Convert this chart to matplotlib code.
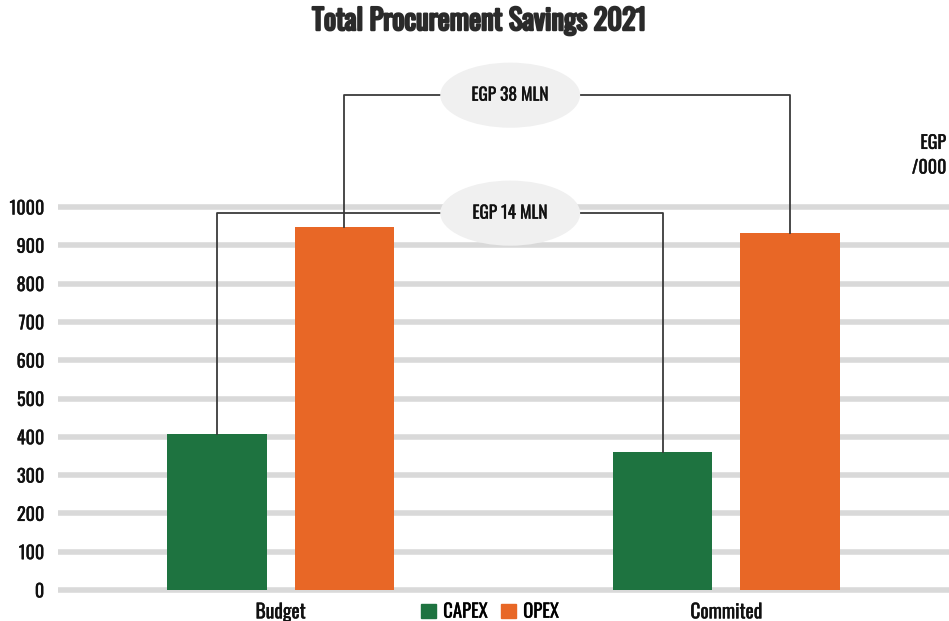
import matplotlib
matplotlib.use('Agg')
import numpy as np
import matplotlib.pyplot as plt
from matplotlib import font_manager
import matplotlib.patheffects as pe
from matplotlib.patches import Ellipse, Patch

# 优先用窄体字体（参考图是 Oswald 一类的窄字）
available = {f.name for f in font_manager.fontManager.ttflist}
family = [f for f in ['Oswald', 'Barlow Condensed', 'Roboto Condensed', 'Liberation Sans'] if f in available]
plt.rcParams['font.family'] = family + ['DejaVu Sans']

# data
categories = ['Budget', 'Commited']
capex = [407, 360]
opex = [948, 932]
series_names = ['CAPEX', 'OPEX']
savings_labels = ['EGP 38 MLN', 'EGP 14 MLN']
y_ticks = list(range(0, 1001, 100))

green = '#1e7340'
orange = '#e86726'
grid_c = '#d9d9d9'
line_c = '#3a3a3a'
text_c = '#111111'
thick = [pe.withStroke(linewidth=0.25, foreground=text_c)]

fig = plt.figure(figsize=(9.49, 6.21), dpi=100)
ax = fig.add_axes([58 / 949, 0.045, 1 - 58 / 949, 0.856])

x = np.arange(len(categories))
w = 0.224
off = 0.143
ax.bar(x - off, capex, w, color=green, zorder=3)
ax.bar(x + off, opex, w, color=orange, zorder=3)

ax.set_xlim(-0.5, 1.5)
ax.set_ylim(-8, 1380)
ax.set_yticks(y_ticks)
ax.set_yticklabels([str(v) for v in y_ticks], fontsize=13, color=text_c)
ax.set_xticks(x)
ax.set_xticklabels(categories, fontsize=14, color=text_c)
ax.tick_params(length=0, axis='y', pad=10)
ax.tick_params(length=0, axis='x', pad=6)
for lbl in ax.get_yticklabels() + ax.get_xticklabels():
    lbl.set_path_effects(thick)
for s in ax.spines.values():
    s.set_visible(False)
for v in y_ticks:
    ax.axhline(v, color=grid_c, lw=4, zorder=1)

# 两条连接线 + 椭圆标签
mid = 0.515
brackets = [
    (x[0] + off, opex[0], x[1] + off, opex[1], 1292, savings_labels[0]),
    (x[0] - off, capex[0], x[1] - off, capex[1], 984, savings_labels[1]),
]
for x1, y1, x2, y2, yl, lab in brackets:
    ax.plot([x1, x1, x2, x2], [y1, yl, yl, y2], color=line_c, lw=1.3,
            zorder=4, clip_on=False)
    ax.add_patch(Ellipse((mid, yl), 0.314, 170, facecolor='#f0f0f0',
                         edgecolor='none', zorder=5, clip_on=False))
    ax.text(mid, yl, lab, ha='center', va='center', fontsize=12.5,
            color=text_c, zorder=6, path_effects=thick)

fig.text(0.997, 0.75, 'EGP\n/000', ha='right', va='center', fontsize=13,
         color=text_c, linespacing=1.45, path_effects=thick)

handles = [Patch(color=green), Patch(color=orange)]
leg = fig.legend(handles, series_names, loc='center', bbox_to_anchor=(0.516, 0.015),
                 ncol=2, frameon=False, fontsize=13.5, handlelength=0.8,
                 handleheight=0.8, handletextpad=0.4, columnspacing=0.7)
for t in leg.get_texts():
    t.set_path_effects(thick)

fig.text(0.505, 0.966, 'Total Procurement Savings 2021', ha='center',
         va='center', fontsize=20.5, fontweight='bold', color='#2a2a2a',
         path_effects=[pe.withStroke(linewidth=1.6, foreground='#2a2a2a')])

fig.savefig('out.png', dpi=100)
